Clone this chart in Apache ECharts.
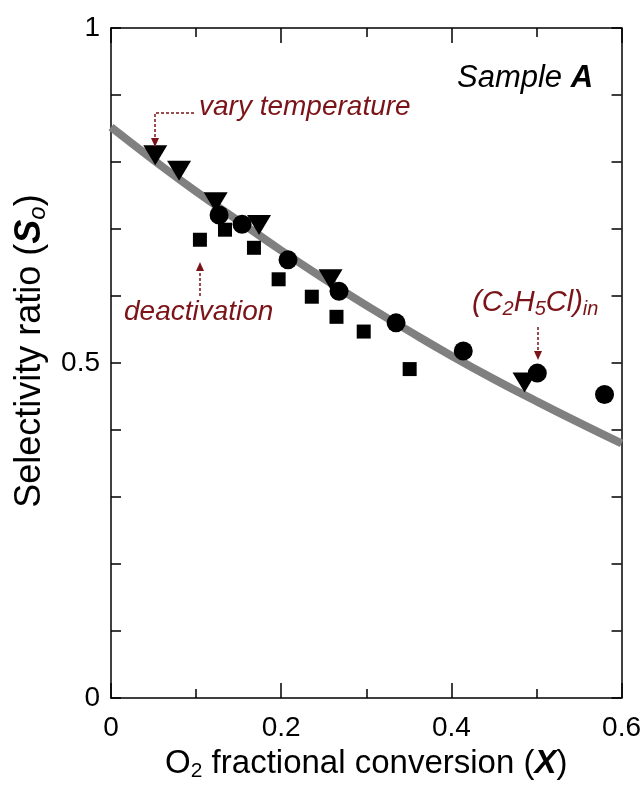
<!DOCTYPE html>
<html>
<head>
<meta charset="utf-8">
<script src="https://cdn.jsdelivr.net/npm/echarts@6/dist/echarts.min.js"></script>
<style>
html,body{margin:0;padding:0;background:#fff;}
#chart{width:644px;height:787px;}
</style>
</head>
<body>
<div id="chart"></div>
<script>
// Data
const triangleX = [0.052, 0.080, 0.123, 0.174, 0.258, 0.486];
const triangleY = [0.810, 0.787, 0.740, 0.706, 0.625, 0.471];
const circleX = [0.127, 0.154, 0.208, 0.268, 0.335, 0.414, 0.501, 0.580];
const circleY = [0.721, 0.707, 0.654, 0.607, 0.560, 0.518, 0.485, 0.453];
const squareX = [0.1045, 0.134, 0.168, 0.197, 0.236, 0.265, 0.297, 0.351];
const squareY = [0.684, 0.699, 0.672, 0.625, 0.599, 0.569, 0.547, 0.491];
const curveX = [0, 0.05, 0.1, 0.15, 0.2, 0.25, 0.3, 0.35, 0.4, 0.45, 0.5, 0.55, 0.6];
const curveY = [0.852, 0.803, 0.756, 0.712, 0.668, 0.626, 0.586, 0.548, 0.511, 0.476, 0.443, 0.411, 0.380];
const xTicks = [0, 0.2, 0.4, 0.6];
const yTicks = [0, 0.5, 1];

const FONT = "'Liberation Sans', Arial, sans-serif";
const RED = '#7a1418';
const pair = (xs, ys) => xs.map((x, i) => [x, ys[i]]);

const chart = echarts.init(document.getElementById('chart'), null, {renderer: 'canvas'});

const baseX = {
  type: 'value', min: 0, max: 0.6, interval: 0.2,
  axisLine: {show: true, onZero: false, lineStyle: {color: '#000', width: 1.5}},
  axisTick: {show: true, inside: true, length: 15, lineStyle: {color: '#000', width: 1.5}},
  minorTick: {show: true, splitNumber: 2, length: 9, lineStyle: {color: '#000', width: 1.5}},
  splitLine: {show: false}, minorSplitLine: {show: false}
};
const baseY = {
  type: 'value', min: 0, max: 1, interval: 0.5,
  axisLine: {show: true, onZero: false, lineStyle: {color: '#000', width: 1.5}},
  axisTick: {show: true, inside: true, length: 10, lineStyle: {color: '#000', width: 1.5}},
  minorTick: {show: true, splitNumber: 5, length: 10, lineStyle: {color: '#000', width: 1.5}},
  splitLine: {show: false}, minorSplitLine: {show: false}
};
const fmt = v => {
  const t = xTicks.concat(yTicks).find(k => Math.abs(k - v) < 1e-9);
  return t === undefined ? '' : String(t);
};

const option = {
  backgroundColor: '#fff',
  animation: false,
  grid: {left: 111, right: 22, top: 28, bottom: 79, containLabel: false},
  xAxis: [
    Object.assign({}, baseX, {
      position: 'bottom',
      axisLabel: {show: true, formatter: fmt, fontSize: 28, color: '#000', fontFamily: FONT, margin: 16},
      name: 'O{sub|2} fractional conversion ({b|X})',
      nameLocation: 'middle', nameGap: 37,
      nameTextStyle: {
        fontSize: 33, color: '#000', fontFamily: FONT,
        rich: {
          sub: {fontSize: 21, color: '#000', fontFamily: FONT, padding: [16, 0, 0, 0]},
          b: {fontSize: 33, color: '#000', fontFamily: FONT, fontWeight: 'bold', fontStyle: 'italic'}
        }
      }
    }),
    Object.assign({}, baseX, {position: 'top', axisLabel: {show: false}})
  ],
  yAxis: [
    Object.assign({}, baseY, {
      position: 'left',
      axisLabel: {show: true, formatter: fmt, fontSize: 28, color: '#000', fontFamily: FONT, margin: 11},
      name: 'Selectivity ratio ({b|S}{sub|o})',
      nameLocation: 'middle', nameGap: 61, nameRotate: 90,
      nameTextStyle: {
        fontSize: 36, color: '#000', fontFamily: FONT, padding: [0, 0, 0, 24],
        rich: {
          b: {fontSize: 36, color: '#000', fontFamily: FONT, fontWeight: 'bold', fontStyle: 'italic'},
          sub: {fontSize: 24, color: '#000', fontFamily: FONT, fontStyle: 'italic', padding: [16, 0, 0, 0]}
        }
      }
    }),
    Object.assign({}, baseY, {position: 'right', axisLabel: {show: false}})
  ],
  series: [
    {
      type: 'line', data: pair(curveX, curveY), smooth: true, showSymbol: false,
      lineStyle: {color: '#808080', width: 8}, z: 1, silent: true
    },
    {
      type: 'scatter', data: pair(squareX, squareY), symbol: 'rect', symbolSize: 14,
      itemStyle: {color: '#000', opacity: 1}, z: 3
    },
    {
      type: 'scatter', data: pair(circleX, circleY), symbol: 'circle', symbolSize: 19,
      itemStyle: {color: '#000', opacity: 1}, z: 4
    },
    {
      type: 'scatter', data: pair(triangleX, triangleY), symbol: 'triangle', symbolRotate: 180,
      symbolSize: [24, 20], itemStyle: {color: '#000', opacity: 1}, z: 5
    }
  ],
  graphic: [
    {
      type: 'text', left: 457, top: 63, z: 10,
      style: {
        text: '{i|Sample }{b|A}', fontFamily: FONT,
        rich: {
          i: {fontSize: 31, fontStyle: 'italic', fill: '#000', fontFamily: FONT},
          b: {fontSize: 31, fontStyle: 'italic', fontWeight: 'bold', fill: '#000', fontFamily: FONT}
        }
      }
    },
    {
      type: 'text', left: 199, top: 93, z: 10,
      style: {text: 'vary temperature', fontSize: 28, fontStyle: 'italic', fill: RED, fontFamily: FONT}
    },
    {
      type: 'polyline', z: 10,
      shape: {points: [[194, 113], [155, 113], [155, 140]]},
      style: {stroke: RED, lineWidth: 1.5, lineDash: [3, 2], fill: null}
    },
    {
      type: 'polygon', z: 10,
      shape: {points: [[151, 138], [159, 138], [155, 147]]},
      style: {fill: RED}
    },
    {
      type: 'text', left: 124, top: 298, z: 10,
      style: {text: 'deactivation', fontSize: 28, fontStyle: 'italic', fill: RED, fontFamily: FONT}
    },
    {
      type: 'line', z: 10,
      shape: {x1: 200, y1: 296, x2: 200, y2: 270},
      style: {stroke: RED, lineWidth: 1.5, lineDash: [3, 2]}
    },
    {
      type: 'polygon', z: 10,
      shape: {points: [[196, 271], [204, 271], [200, 262]]},
      style: {fill: RED}
    },
    {
      type: 'text', left: 472, top: 288, z: 10,
      style: {
        text: '{i|(C}{s|2}{i|H}{s|5}{i|Cl)}{s|in}', fontFamily: FONT,
        rich: {
          i: {fontSize: 29, fontStyle: 'italic', fill: RED, fontFamily: FONT},
          s: {fontSize: 20, fontStyle: 'italic', fill: RED, fontFamily: FONT, padding: [14, 0, 0, 0]}
        }
      }
    },
    {
      type: 'line', z: 10,
      shape: {x1: 538, y1: 327, x2: 538, y2: 352},
      style: {stroke: RED, lineWidth: 1.5, lineDash: [3, 2]}
    },
    {
      type: 'polygon', z: 10,
      shape: {points: [[534, 351], [542, 351], [538, 360]]},
      style: {fill: RED}
    }
  ]
};
chart.setOption(option);
</script>
</body>
</html>
